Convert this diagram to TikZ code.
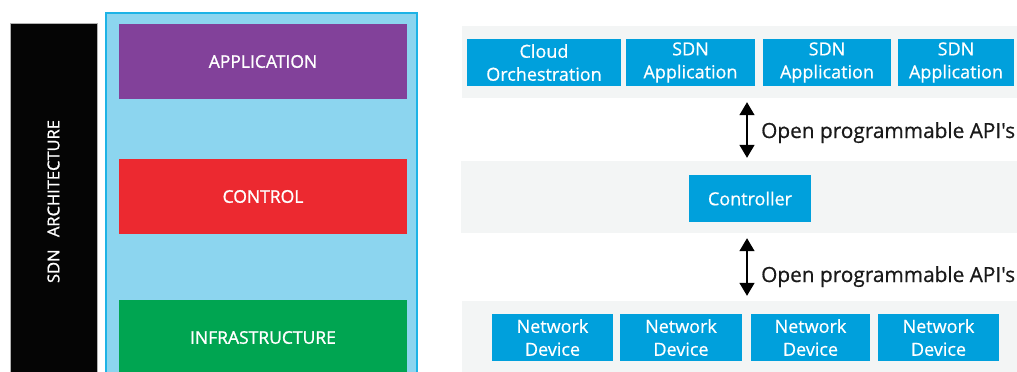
\documentclass[tikz,border=0pt]{standalone}
\usepackage{fontspec}
\setmainfont{Open Sans}
\newfontfamily\heavysans[FakeBold=1.2]{Open Sans}
\newfontfamily\mediumsans[FakeBold=0.6]{Open Sans}
\usetikzlibrary{arrows.meta}
\definecolor{archblack}{HTML}{050505}
\definecolor{stackfill}{HTML}{8CD5EF}
\definecolor{stackedge}{HTML}{1DB3E6}
\definecolor{appviolet}{HTML}{82419A}
\definecolor{ctrlred}{HTML}{EC2930}
\definecolor{infragreen}{HTML}{00A551}
\definecolor{tileblue}{HTML}{00A0DC}
\definecolor{panelgrey}{HTML}{F3F5F5}
\definecolor{apitext}{HTML}{1A1A1A}
\tikzset{
  layerbox/.style={rectangle, inner sep=0pt, minimum width=288pt, minimum height=75pt,
    text=white, font=\heavysans\fontsize{17.5}{20}\selectfont},
  panel/.style={rectangle, fill=panelgrey, inner sep=0pt},
  tile/.style={rectangle, fill=tileblue, inner sep=0pt, minimum height=47pt,
    text=white, align=center, font=\mediumsans\fontsize{18}{23}\selectfont},
  apiarrow/.style={{Triangle[width=15pt,length=13pt]}-{Triangle[width=15pt,length=13pt]},
    line width=1.5pt, black},
  apilabel/.style={anchor=base west, inner sep=0pt, text=apitext,
    font=\mediumsans\fontsize{20.8}{24}\selectfont}
}
\begin{document}
\begin{tikzpicture}[x=1pt, y=-1pt]
  \clip (0,0) rectangle (1017,372);
  \fill[white] (0,0) rectangle (1017,372);

  % layered view on the left
  \node[rectangle, fill=archblack, draw=gray!60, line width=0.6pt, inner sep=0pt,
        minimum width=357pt, minimum height=87pt, rotate=90, text=white,
        font=\heavysans\fontsize{16.5}{18}\selectfont]
    (arch) at (53.5,201.5) {SDN\hspace{0.75em}ARCHITECTURE};
  \node[rectangle, fill=stackfill, draw=stackedge, line width=2pt, inner sep=0pt,
        minimum width=311pt, minimum height=367pt]
    (stack) at (261.5,196.5) {};
  \node[layerbox, fill=appviolet]  (app)   at (263,61.5)  {APPLICATION};
  \node[layerbox, fill=ctrlred]    (ctrl)  at (263,196.5) {CONTROL};
  \node[layerbox, fill=infragreen] (infra) at (263,337.5) {INFRASTRUCTURE};

  % planes on the right
  \node[panel, minimum width=563pt, minimum height=72pt] (toppanel) at (743.5,62) {};
  \node[panel, minimum width=564pt, minimum height=72pt] (midpanel) at (743,197) {};
  \node[panel, minimum width=563pt, minimum height=79pt] (botpanel) at (743.5,340.5) {};

  \node[tile, minimum width=154pt] (cloud) at (544,62.5)   {Cloud\\Orchestration};
  \node[tile, minimum width=129pt] (sdna)  at (690.5,62.5) {SDN\\Application};
  \node[tile, minimum width=128pt] (sdnb)  at (827,62.5)   {SDN\\Application};
  \node[tile, minimum width=116pt] (sdnc)  at (956,62.5)   {SDN\\Application};

  \node[tile, minimum width=122pt] (controller) at (750,198.5) {Controller};

  \node[tile, minimum width=121pt] (nda) at (552.5,337.5) {Network\\Device};
  \node[tile, minimum width=122pt] (ndb) at (681,337.5)   {Network\\Device};
  \node[tile, minimum width=119pt] (ndc) at (810.5,337.5) {Network\\Device};
  \node[tile, minimum width=121pt] (ndd) at (938.5,337.5) {Network\\Device};

  % API arrows between the planes
  \coordinate (axis) at (747,0);
  \draw[apiarrow, shorten <=4pt, shorten >=3pt]
    (toppanel.south -| axis) -- (midpanel.north -| axis);
  \draw[apiarrow, shorten <=5pt, shorten >=5pt]
    (midpanel.south -| axis) -- (botpanel.north -| axis);
  \node[apilabel] (apinorth) at (761,138) {Open programmable API's};
  \node[apilabel] (apisouth) at (761,282) {Open programmable API's};
\end{tikzpicture}
\end{document}
